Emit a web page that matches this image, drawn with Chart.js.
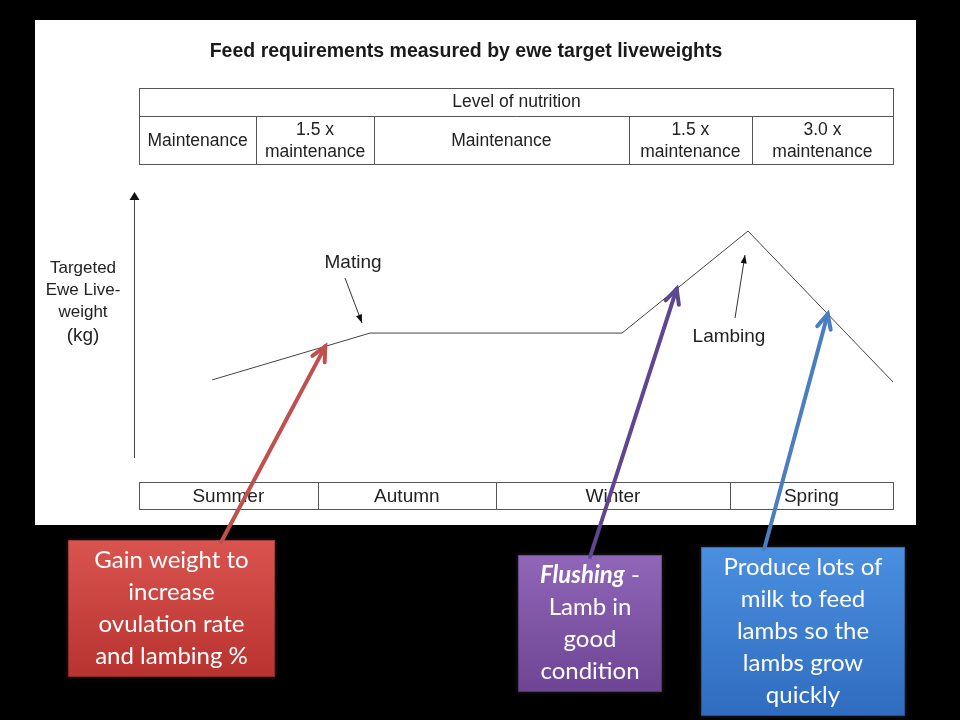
<!DOCTYPE html>
<html>
<head>
<meta charset="utf-8">
<script src="https://cdn.jsdelivr.net/npm/chart.js@4.4.1/dist/chart.umd.min.js"></script>
<style>
	html, body { margin: 0; padding: 0; background: #000; }
	#wrap { width: 960px; height: 720px; }
</style>
</head>
<body>
<div id="wrap"><canvas id="canvas01" width="960" height="720"></canvas></div>
<script>

// timeline runs 0..100 across the year, liveweight in relative units 0..100
const timeX = [10.3, 31.1, 64.3, 80.9, 100];
const liveweight = [29.7, 47.5, 47.5, 86.3, 28.9];

const nutritionLevels = [['Maintenance'], ['1.5 x', 'maintenance'], ['Maintenance'], ['1.5 x', 'maintenance'], ['3.0 x', 'maintenance']];
const nutritionEdges = [0.66, 16.1, 31.6, 65.2, 81.4, 100];

const seasonLabels = ['Summer', 'Autumn', 'Winter', 'Spring'];
const seasonEdges = [0.66, 24.2, 47.7, 78.5, 100];

const yAxisLabel = ['Targeted', 'Ewe Live-', 'weight', '(kg)'];

// where each call-out points on the line (timeline units)
const notes = [
	{ lines: [['Gain weight to'], ['increase'], ['ovulation rate'], ['and lambing %']], at: 25.2, from: 0.74, color: '#c0504d', top: '#d9534f', bot: '#b8322f', box: [68, 540, 207, 137] },
	{ lines: [['Flushing', ' -'], ['Lamb in'], ['good'], ['condition']], at: 71.5, from: 0.5, color: '#5f4690', top: '#9066b8', bot: '#6e4494', box: [518, 555, 144, 137] },
	{ lines: [['Produce lots of'], ['milk to feed'], ['lambs so the'], ['lambs grow'], ['quickly']], at: 91.4, from: 0.31, color: '#4a7ebf', top: '#4b8fe0', bot: '#2f6cc0', box: [701, 547, 204, 169] }
];

function lineY(x) {
	for (var i = 0; i < timeX.length - 1; i++) {
		if (x >= timeX[i] && x <= timeX[i + 1]) {
			var t = (x - timeX[i]) / (timeX[i + 1] - timeX[i]);
			return liveweight[i] + t * (liveweight[i + 1] - liveweight[i]);
		}
	}
	return liveweight[0];
}

function arrowLine(ctx, x1, y1, x2, y2, head, open) {
	var a = Math.atan2(y2 - y1, x2 - x1);
	ctx.beginPath();
	ctx.moveTo(x1, y1);
	ctx.lineTo(x2, y2);
	ctx.stroke();
	if (open) {
		ctx.beginPath();
		ctx.moveTo(x2 - head * Math.cos(a - 0.45), y2 - head * Math.sin(a - 0.45));
		ctx.lineTo(x2, y2);
		ctx.lineTo(x2 - head * Math.cos(a + 0.45), y2 - head * Math.sin(a + 0.45));
		ctx.stroke();
	} else {
		ctx.beginPath();
		ctx.moveTo(x2, y2);
		ctx.lineTo(x2 - head * Math.cos(a - 0.35), y2 - head * Math.sin(a - 0.35));
		ctx.lineTo(x2 - head * Math.cos(a + 0.35), y2 - head * Math.sin(a + 0.35));
		ctx.closePath();
		ctx.fill();
	}
}

const slide_backg = {
	id: 'slide_backg',
	beforeDraw(chart) {
		const { ctx, scales: { x, y } } = chart;
		ctx.save();
		ctx.fillStyle = '#000';
		ctx.fillRect(0, 0, chart.width, chart.height);
		ctx.fillStyle = '#fff';
		ctx.fillRect(35, 20, 881, 505);

		ctx.fillStyle = '#1a1a1a';
		ctx.textAlign = 'center';
		ctx.textBaseline = 'middle';
		ctx.font = 'bold 19.5px "Liberation Sans", Arial, sans-serif';
		ctx.fillText('Feed requirements measured by ewe target liveweights', 466, 52);

		// nutrition table
		ctx.strokeStyle = '#555';
		ctx.lineWidth = 1;
		var l = Math.round(x.getPixelForValue(nutritionEdges[0])) + 0.5;
		var r = Math.round(x.getPixelForValue(nutritionEdges[nutritionEdges.length - 1])) + 0.5;
		ctx.strokeRect(l, 88.5, r - l, 76);
		ctx.beginPath();
		ctx.moveTo(l, 116.5); ctx.lineTo(r, 116.5);
		for (var i = 1; i < nutritionEdges.length - 1; i++) {
			var px = Math.round(x.getPixelForValue(nutritionEdges[i])) + 0.5;
			ctx.moveTo(px, 116.5); ctx.lineTo(px, 164.5);
		}
		ctx.stroke();
		ctx.fillStyle = '#222';
		ctx.font = '17.5px "Liberation Sans", Arial, sans-serif';
		ctx.fillText('Level of nutrition', (l + r) / 2, 102);
		for (var i = 0; i < nutritionLevels.length; i++) {
			var cx = (x.getPixelForValue(nutritionEdges[i]) + x.getPixelForValue(nutritionEdges[i + 1])) / 2;
			var txt = nutritionLevels[i];
			if (txt.length == 1) {
				ctx.fillText(txt[0], cx, 141);
			} else {
				ctx.fillText(txt[0], cx, 130);
				ctx.fillText(txt[1], cx, 152);
			}
		}

		// season table
		l = Math.round(x.getPixelForValue(seasonEdges[0])) + 0.5;
		r = Math.round(x.getPixelForValue(seasonEdges[seasonEdges.length - 1])) + 0.5;
		ctx.strokeRect(l, 482.5, r - l, 27);
		ctx.beginPath();
		for (var i = 1; i < seasonEdges.length - 1; i++) {
			var px = Math.round(x.getPixelForValue(seasonEdges[i])) + 0.5;
			ctx.moveTo(px, 482.5); ctx.lineTo(px, 509.5);
		}
		ctx.stroke();
		ctx.font = '19px "Liberation Sans Narrow", "Liberation Sans", Arial, sans-serif';
		for (var i = 0; i < seasonLabels.length; i++) {
			var cx = (x.getPixelForValue(seasonEdges[i]) + x.getPixelForValue(seasonEdges[i + 1])) / 2;
			ctx.fillText(seasonLabels[i], cx, 497);
		}

		// y axis with arrow
		ctx.strokeStyle = '#444';
		ctx.fillStyle = '#111';
		var ax = chart.chartArea.left + 0.5;
		ctx.beginPath();
		ctx.moveTo(ax, chart.chartArea.bottom);
		ctx.lineTo(ax, chart.chartArea.top + 2);
		ctx.stroke();
		ctx.beginPath();
		ctx.moveTo(ax, chart.chartArea.top - 3);
		ctx.lineTo(ax - 5, chart.chartArea.top + 5);
		ctx.lineTo(ax + 5, chart.chartArea.top + 5);
		ctx.closePath();
		ctx.fill();

		ctx.fillStyle = '#222';
		ctx.font = '17px "Liberation Sans", Arial, sans-serif';
		ctx.fillText(yAxisLabel[0], 83, 268);
		ctx.fillText(yAxisLabel[1], 83, 290);
		ctx.fillText(yAxisLabel[2], 83, 312);
		ctx.font = '19px "Liberation Sans", Arial, sans-serif';
		ctx.fillText(yAxisLabel[3], 83, 336);

		// event labels
		ctx.font = '19px "Liberation Sans", Arial, sans-serif';
		ctx.fillText('Mating', 353, 263);
		ctx.fillText('Lambing', 729, 337);
		ctx.strokeStyle = '#333';
		ctx.fillStyle = '#111';
		arrowLine(ctx, 345, 278, 362, 323, 9, false);
		arrowLine(ctx, 735, 318, 745, 255, 9, false);

		ctx.restore();
	}
};

const callouts = {
	id: 'callouts',
	afterDraw(chart) {
		const { ctx, scales: { x, y } } = chart;
		ctx.save();
		notes.forEach(function (n) {
			var b = n.box;
			// shadow + gradient box
			ctx.shadowColor = 'rgba(255,255,255,0.15)';
			ctx.shadowBlur = 4;
			var g = ctx.createLinearGradient(0, b[1], 0, b[1] + b[3]);
			g.addColorStop(0, n.top);
			g.addColorStop(1, n.bot);
			ctx.fillStyle = g;
			ctx.fillRect(b[0], b[1], b[2], b[3]);
			ctx.shadowBlur = 0;
			ctx.strokeStyle = 'rgba(0,0,0,0.25)';
			ctx.lineWidth = 1;
			ctx.strokeRect(b[0] + 0.5, b[1] + 0.5, b[2] - 1, b[3] - 1);

			// arrow from box top to the curve
			var tx = x.getPixelForValue(n.at);
			var ty = y.getPixelForValue(lineY(n.at));
			var sx = b[0] + b[2] * n.from;
			ctx.strokeStyle = n.color;
			ctx.lineWidth = 4;
			ctx.lineCap = 'round';
			arrowLine(ctx, sx, b[1] + 2, tx, ty, 16, true);

			// text
			ctx.fillStyle = '#fff';
			ctx.textBaseline = 'middle';
			var cy = b[1] + b[3] / 2 - (n.lines.length - 1) * 16;
			var f = '24px Lato, "Open Sans", sans-serif';
			var fb = 'italic bold 24px Lato, "Open Sans", sans-serif';
			n.lines.forEach(function (ln, k) {
				var yy = cy + k * 32;
				var cx = b[0] + b[2] / 2;
				if (ln.length == 1) {
					ctx.textAlign = 'center';
					ctx.font = f;
					ctx.fillText(ln[0], cx, yy);
				} else {
					ctx.font = fb;
					var w1 = ctx.measureText(ln[0]).width;
					ctx.font = f;
					var w2 = ctx.measureText(ln[1]).width;
					var sx0 = cx - (w1 + w2) / 2;
					ctx.textAlign = 'left';
					ctx.font = fb;
					ctx.fillText(ln[0], sx0, yy);
					ctx.font = f;
					ctx.fillText(ln[1], sx0 + w1, yy);
				}
			});
		});
		ctx.restore();
	}
};

var graf_peso = null;

function GrafPeso() {
	if (graf_peso != null) { graf_peso.destroy(); }

	var chartData = {
		datasets: [{
			type: 'line',
			label: 'Liveweight',
			data: timeX.map(function (v, i) { return { x: v, y: liveweight[i] }; }),
			borderColor: '#444',
			borderWidth: 1,
			pointRadius: 0,
			fill: false,
			tension: 0,
		}]
	};

	var config01 = {
		type: 'line',
		data: chartData,
		options: {
			responsive: false,
			animation: false,
			layout: {
				padding: { left: 134, right: 67, top: 195, bottom: 262 }
			},
			plugins: {
				legend: { display: false },
				title: { display: false },
				tooltip: { enabled: false },
			},
			scales: {
				x: { type: 'linear', min: 0, max: 100, display: false },
				y: { type: 'linear', min: 0, max: 100, display: false }
			},
		},
		plugins: [slide_backg, callouts]
	};

	var ctx01 = document.getElementById('canvas01').getContext('2d');
	graf_peso = new Chart(ctx01, config01);
}

GrafPeso();
</script>
</body>
</html>
